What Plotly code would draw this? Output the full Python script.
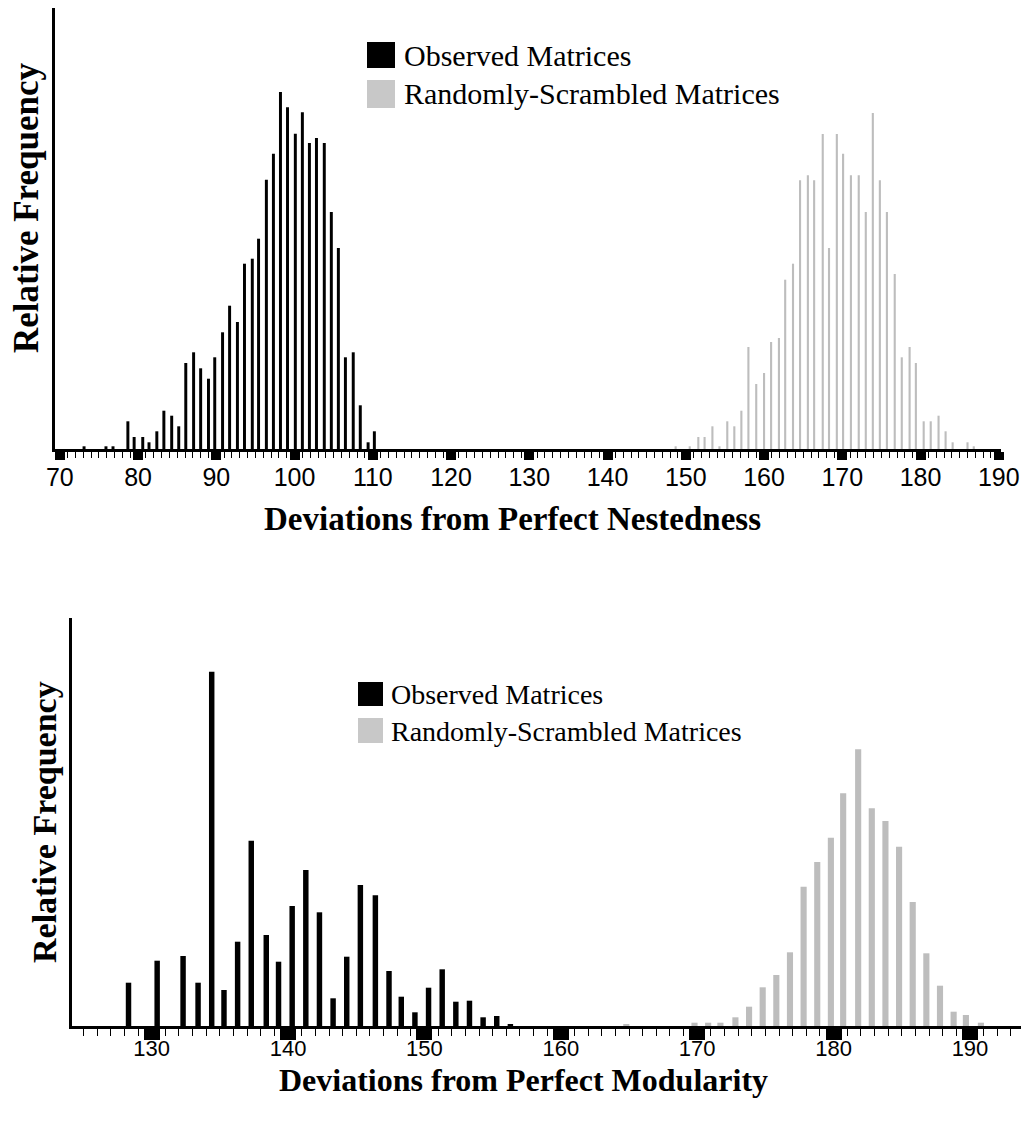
import plotly.graph_objects as go

W, H = 1021, 1121

# ---------------- data ----------------
# Top panel: deviations from perfect nestedness
nest_obs_x = [73.1, 75.9, 76.8, 78.7, 79.5, 80.6, 81.4, 82.4, 83.3, 84.3, 85.2, 86.1, 87.1,
              88.0, 89.0, 89.8, 90.8, 91.7, 92.7, 93.6, 94.6, 95.4, 96.4, 97.3, 98.2, 99.1,
              100.1, 101.0, 101.9, 102.8, 103.8, 104.7, 105.6, 106.5, 107.5, 108.4, 109.4, 110.2]
nest_obs_y = [2.7, 2.7, 2.7, 27.7, 12, 12, 6.7, 17.7, 38.3, 33.3, 22.7, 86, 96.7,
              80.7, 70.3, 91.7, 116.7, 143.3, 127, 185.3, 190.3, 210.3, 269.3, 295.3, 357, 341.7,
              315.3, 336.7, 306, 311, 306, 237, 201, 91.7, 96.7, 43.7, 6.7, 17.7]

nest_rand_x = [148.7, 150.5, 151.6, 152.4, 153.4, 154.3, 155.3, 156.2, 157.1, 158.0, 159.0,
               160.0, 160.9, 161.9, 162.7, 163.7, 164.6, 165.6, 166.4, 167.5, 168.3, 169.3,
               170.1, 171.1, 172.1, 173.0, 173.9, 174.8, 175.7, 176.7, 177.6, 178.6, 179.4,
               180.4, 181.3, 182.3, 183.2, 184.1, 186.0, 186.8]
nest_rand_y = [2.7, 2.7, 12, 12, 22.7, 2.7, 27.7, 22.7, 38.3, 102, 65,
               76, 107, 111, 169.3, 185.3, 268.7, 273.7, 268.7, 315, 201, 315,
               295.3, 273.7, 273.7, 237, 336, 268.7, 237, 175, 91.7, 102, 86,
               27.7, 27.7, 33.3, 17.7, 6.7, 6.7, 2.7]

nest_ticks = [70, 80, 90, 100, 110, 120, 130, 140, 150, 160, 170, 180, 190]

# Bottom panel: deviations from perfect modularity
mod_obs_x = [128.3, 130.4, 132.3, 133.4, 134.4, 135.3, 136.3, 137.3, 138.4, 139.3, 140.3,
             141.3, 142.3, 143.3, 144.3, 145.3, 146.4, 147.4, 148.3, 149.3, 150.3, 151.3,
             152.3, 153.3, 154.3, 155.3, 156.3]
mod_obs_y = [43.3, 65.3, 70, 43.3, 354.3, 36, 84.3, 185.3, 91, 64.3, 120,
             156, 113.7, 27.7, 69.3, 141, 130.7, 55, 29.3, 13.7, 38.3, 56.7,
             24.3, 25.3, 8.7, 10, 2]

mod_rand_x = [164.8, 169.8, 170.8, 171.7, 172.8, 173.8, 174.8, 175.8, 176.8, 177.8, 178.8,
              179.8, 180.7, 181.8, 182.8, 183.8, 184.8, 185.8, 186.8, 187.8, 188.8, 189.7, 190.8]
mod_rand_y = [2, 3.3, 3.3, 3.3, 8.7, 19.3, 38.7, 51, 73.7, 139.3, 164,
              188.3, 232.7, 276.7, 217.7, 205, 179.3, 124, 72.7, 40.3, 14.3, 11, 3.3]

mod_ticks = [130, 140, 150, 160, 170, 180, 190]

series_names = ["Observed Matrices", "Randomly-Scrambled Matrices"]
x_titles = ["Deviations from Perfect Nestedness", "Deviations from Perfect Modularity"]
y_title = "Relative Frequency"

BLACK = "#000000"
GRAY = "#bdbdbd"
LEG_GRAY = "#c8c8c8"
SERIF = "Liberation Serif, Times New Roman, serif"
SANS = "Liberation Sans, Arial, sans-serif"


def px(x):
    return x / W


def py(y):
    return 1 - y / H


fig = go.Figure()

fig.add_trace(go.Bar(x=nest_obs_x, y=nest_obs_y, width=0.38, name=series_names[0],
                     marker=dict(color=BLACK, line=dict(width=0)),
                     xaxis="x", yaxis="y", showlegend=False))
fig.add_trace(go.Bar(x=nest_rand_x, y=nest_rand_y, width=0.27, name=series_names[1],
                     marker=dict(color=GRAY, line=dict(width=0)),
                     xaxis="x", yaxis="y", showlegend=False))
fig.add_trace(go.Bar(x=mod_obs_x, y=mod_obs_y, width=0.40, name=series_names[0],
                     marker=dict(color=BLACK, line=dict(width=0)),
                     xaxis="x2", yaxis="y2", showlegend=False))
fig.add_trace(go.Bar(x=mod_rand_x, y=mod_rand_y, width=0.45, name=series_names[1],
                     marker=dict(color=GRAY, line=dict(width=0)),
                     xaxis="x2", yaxis="y2", showlegend=False))

common_x = dict(showline=True, linewidth=3, linecolor=BLACK, ticks="outside",
                tickcolor=BLACK, showgrid=False, zeroline=False, tickmode="array",
                automargin=False)
common_y = dict(showline=True, linewidth=3, linecolor=BLACK, ticks="",
                showticklabels=False, showgrid=False, zeroline=False, automargin=False)

fig.update_layout(
    width=W, height=H,
    margin=dict(l=0, r=0, t=0, b=0, autoexpand=False),
    paper_bgcolor="white", plot_bgcolor="white",
    barmode="overlay",
    xaxis=dict(common_x, domain=[px(55), px(1001)], range=[69.387, 190.28], anchor="y",
               tickvals=nest_ticks, ticklen=8, tickwidth=10, ticklabelstandoff=-4,
               tickfont=dict(family=SANS, size=25, color=BLACK),
               minor=dict(tickmode="linear", tick0=70, dtick=1, ticks="outside",
                          ticklen=6, tickwidth=1, tickcolor=BLACK)),
    yaxis=dict(common_y, domain=[py(449), py(8)], range=[0, 441], anchor="x"),
    xaxis2=dict(common_x, domain=[px(72), 1.0], range=[124.156, 193.74], anchor="y2",
                tickvals=mod_ticks, ticklen=11, tickwidth=16, ticklabelstandoff=-10,
                tickfont=dict(family=SANS, size=22, color=BLACK),
                minor=dict(tickmode="linear", tick0=130, dtick=1, ticks="outside",
                           ticklen=7, tickwidth=1, tickcolor=BLACK)),
    yaxis2=dict(common_y, domain=[py(1026), py(618)], range=[0, 408], anchor="x2"),
)

shapes = []
annotations = []

# legends (drawn by hand to get the large swatches)
for (sx0, sx1, rows, tx, fsize) in [
    (367, 395, [(42, 68, 55), (80, 108, 93)], 402, 30),
    (358, 383, [(682, 706, 694), (718, 743, 731)], 389, 28),
]:
    for i, (y0, y1, yc) in enumerate(rows):
        shapes.append(dict(type="rect", xref="paper", yref="paper",
                           x0=px(sx0), x1=px(sx1), y0=py(y1), y1=py(y0),
                           fillcolor=BLACK if i == 0 else LEG_GRAY, line=dict(width=0)))
        annotations.append(dict(xref="paper", yref="paper", x=px(tx), y=py(yc),
                                xanchor="left", yanchor="middle", showarrow=False,
                                text=series_names[i],
                                font=dict(family=SERIF, size=fsize, color=BLACK)))

# axis titles
annotations.append(dict(xref="paper", yref="paper", x=px(512), y=py(519),
                        xanchor="center", yanchor="middle", showarrow=False,
                        text="<b>%s</b>" % x_titles[0],
                        font=dict(family=SERIF, size=33, color=BLACK)))
annotations.append(dict(xref="paper", yref="paper", x=px(523), y=py(1080),
                        xanchor="center", yanchor="middle", showarrow=False,
                        text="<b>%s</b>" % x_titles[1],
                        font=dict(family=SERIF, size=32, color=BLACK)))
annotations.append(dict(xref="paper", yref="paper", x=px(26), y=py(208),
                        xanchor="center", yanchor="middle", showarrow=False, textangle=-90,
                        text="<b>%s</b>" % y_title,
                        font=dict(family=SERIF, size=35, color=BLACK)))
annotations.append(dict(xref="paper", yref="paper", x=px(44), y=py(822),
                        xanchor="center", yanchor="middle", showarrow=False, textangle=-90,
                        text="<b>%s</b>" % y_title,
                        font=dict(family=SERIF, size=34, color=BLACK)))

fig.update_layout(shapes=shapes, annotations=annotations)

fig.write_html("out.html")
